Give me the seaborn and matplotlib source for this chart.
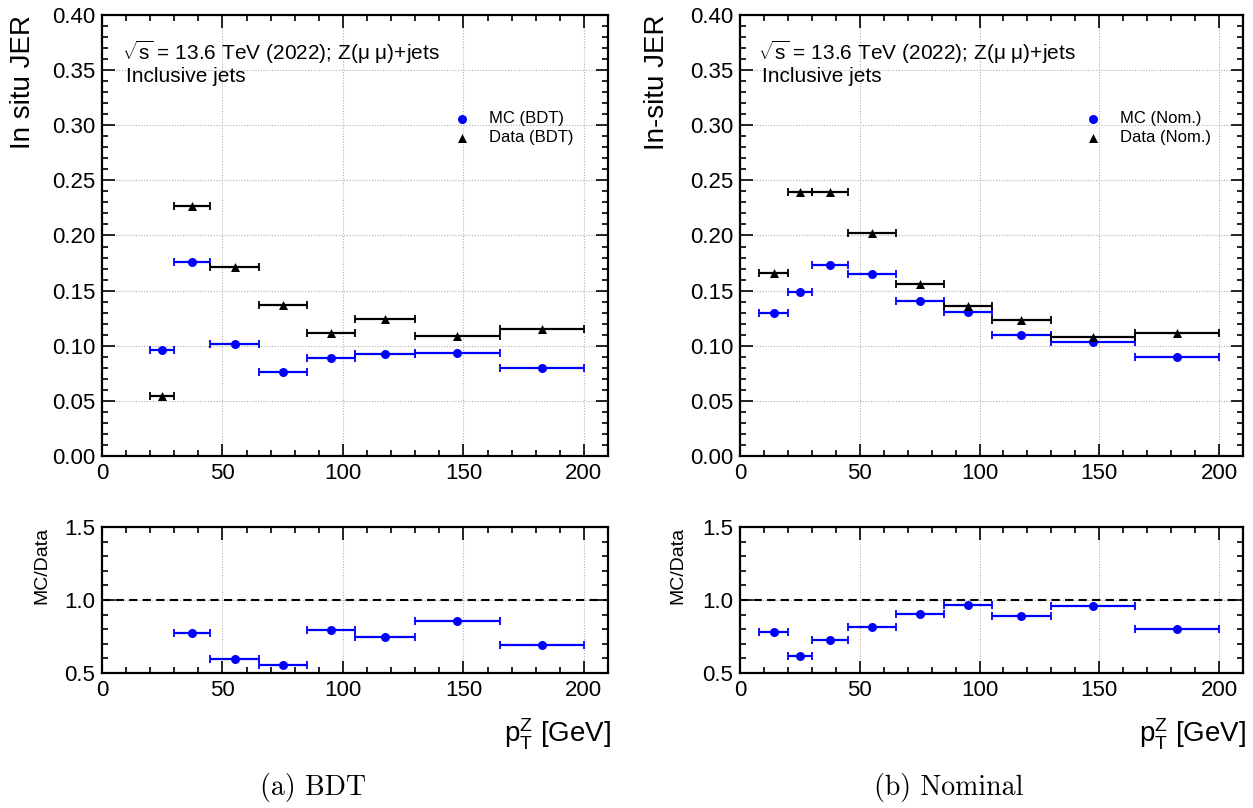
import numpy as np
import pandas as pd
import matplotlib
matplotlib.use("Agg")
import matplotlib.pyplot as plt
import seaborn as sns
from matplotlib.ticker import MultipleLocator, FormatStrFormatter

# ---------------- data ----------------
bdt_lo = [20, 30, 45, 65, 85, 105, 130, 165]
bdt_hi = [30, 45, 65, 85, 105, 130, 165, 200]
bdt_mc = [0.0962, 0.176, 0.102, 0.0762, 0.0893, 0.0929, 0.0935, 0.0799]
bdt_data = [0.0545, 0.227, 0.1716, 0.137, 0.112, 0.1247, 0.1086, 0.115]
bdt_ratio = [1.77, 0.774, 0.594, 0.557, 0.797, 0.744, 0.858, 0.694]

nom_lo = [8, 20, 30, 45, 65, 85, 105, 130, 165]
nom_hi = [20, 30, 45, 65, 85, 105, 130, 165, 200]
nom_mc = [0.130, 0.1489, 0.1734, 0.1655, 0.141, 0.131, 0.1098, 0.1038, 0.0902]
nom_data = [0.1661, 0.2396, 0.2396, 0.2021, 0.1558, 0.1365, 0.1231, 0.108, 0.112]
nom_ratio = [0.781, 0.619, 0.724, 0.817, 0.904, 0.968, 0.890, 0.959, 0.804]

header = r"$\sqrt{\mathrm{s}}$ = 13.6 TeV (2022); Z(μ μ)+jets"
subheader = "Inclusive jets"
xlabel = r"$\mathrm{p}_{\mathrm{T}}^{\mathrm{Z}}$ [GeV]"

panels = [
    dict(lo=bdt_lo, hi=bdt_hi, mc=bdt_mc, data=bdt_data, ratio=bdt_ratio,
         ylabel="In situ JER", mc_lab="MC (BDT)", data_lab="Data (BDT)",
         caption="(a) BDT"),
    dict(lo=nom_lo, hi=nom_hi, mc=nom_mc, data=nom_data, ratio=nom_ratio,
         ylabel="In-situ JER", mc_lab="MC (Nom.)", data_lab="Data (Nom.)",
         caption="(b) Nominal"),
]

# ---------------- style ----------------
sns.set_style("ticks", rc={"text.color": "black", "axes.labelcolor": "black",
                           "xtick.color": "black", "ytick.color": "black",
                           "axes.edgecolor": "black"})
plt.rcParams["font.family"] = ["Liberation Sans", "DejaVu Sans"]
plt.rcParams["font.sans-serif"] = ["Liberation Sans"]
plt.rcParams["mathtext.fontset"] = "custom"
plt.rcParams["mathtext.rm"] = "Liberation Sans"
plt.rcParams["mathtext.it"] = "Liberation Sans:italic"
plt.rcParams["mathtext.bf"] = "Liberation Sans:bold"
plt.rcParams["text.color"] = "black"
plt.rcParams["axes.labelcolor"] = "black"

W, H = 1253, 808
fig = plt.figure(figsize=(W / 100, H / 100), dpi=100)

geo = [
    dict(left=102, right=608, ylab_x=36, rylab_x=50, lg_x=454, hx=122, ix=126, cap_x=0.25),
    dict(left=740, right=1243, ylab_x=670, rylab_x=686, lg_x=1085, hx=758, ix=762, cap_x=0.757),
]
top_y0, top_y1 = 15, 456
bot_y0, bot_y1 = 527, 673


def style_axes(ax, ymajor, yminor, fmt):
    ax.set_xlim(0, 210)
    ax.xaxis.set_major_locator(MultipleLocator(50))
    ax.xaxis.set_minor_locator(MultipleLocator(10))
    ax.yaxis.set_major_locator(MultipleLocator(ymajor))
    ax.yaxis.set_minor_locator(MultipleLocator(yminor))
    ax.yaxis.set_major_formatter(FormatStrFormatter(fmt))
    ax.tick_params(which="both", direction="in", top=True, right=True,
                   labelsize=16, width=1.2, color="black", labelcolor="black")
    ax.tick_params(which="major", length=9, pad=5)
    ax.tick_params(which="minor", length=4.5)
    for s in ax.spines.values():
        s.set_linewidth(1.6)
        s.set_color("black")
    ax.grid(True, which="major", linestyle=(0, (1, 1.5)), color="#b0b0b0", linewidth=0.8)
    ax.set_axisbelow(True)


for p, g in zip(panels, geo):
    lo = np.array(p["lo"], float)
    hi = np.array(p["hi"], float)
    c = (lo + hi) / 2
    xerr = [c - lo, hi - c]

    wl = (g["left"]) / W
    ww = (g["right"] - g["left"]) / W
    ax = fig.add_axes([wl, 1 - top_y1 / H, ww, (top_y1 - top_y0) / H])
    axr = fig.add_axes([wl, 1 - bot_y1 / H, ww, (bot_y1 - bot_y0) / H])

    # ----- top panel -----
    ax.errorbar(c, p["mc"], xerr=xerr, fmt="none", ecolor="#0000ff",
                elinewidth=1.6, capsize=3, capthick=1.3, zorder=2)
    ax.errorbar(c, p["data"], xerr=xerr, fmt="none", ecolor="black",
                elinewidth=1.6, capsize=3, capthick=1.3, zorder=2)
    df_mc = pd.DataFrame({"x": c, "y": p["mc"]})
    df_da = pd.DataFrame({"x": c, "y": p["data"]})
    sns.scatterplot(data=df_mc, x="x", y="y", ax=ax, color="#0000ff", marker="o",
                    s=42, linewidth=0, label=p["mc_lab"], zorder=3)
    sns.scatterplot(data=df_da, x="x", y="y", ax=ax, color="black", marker="^",
                    s=42, linewidth=0, label=p["data_lab"], zorder=3)
    ax.set_ylim(0, 0.40)
    style_axes(ax, 0.05, 0.01, "%.2f")
    ax.set_xlabel("")
    ax.set_ylabel(p["ylabel"], fontsize=20, loc="top", color="black")
    ax.yaxis.set_label_coords((g["ylab_x"] - g["left"]) / (g["right"] - g["left"]), 1.0)

    aw = g["right"] - g["left"]
    ah = top_y1 - top_y0
    ax.text((g["hx"] - g["left"]) / aw, 1 - (52 - top_y0) / ah, header,
            transform=ax.transAxes, fontsize=15, va="center", ha="left", color="black")
    ax.text((g["ix"] - g["left"]) / aw, 1 - (77 - top_y0) / ah, subheader,
            transform=ax.transAxes, fontsize=15, va="center", ha="left", color="black")

    leg = ax.legend(loc="upper left",
                    bbox_to_anchor=((g["lg_x"] - g["left"]) / aw, 1 - (111 - top_y0) / ah),
                    frameon=False, fontsize=12, handlelength=1.0, handletextpad=1.1,
                    borderpad=0, borderaxespad=0, labelspacing=0.25, scatterpoints=1,
                    labelcolor="black")

    # ----- ratio panel -----
    axr.errorbar(c, p["ratio"], xerr=xerr, fmt="none", ecolor="#0000ff",
                 elinewidth=1.6, capsize=3, capthick=1.3, zorder=2)
    df_r = pd.DataFrame({"x": c, "y": p["ratio"]})
    sns.scatterplot(data=df_r, x="x", y="y", ax=axr, color="#0000ff", marker="o",
                    s=42, linewidth=0, zorder=3, legend=False)
    axr.axhline(1.0, color="black", linestyle=(0, (4, 2.5)), linewidth=1.5, zorder=2)
    axr.set_ylim(0.5, 1.5)
    style_axes(axr, 0.5, 0.1, "%.1f")
    axr.set_ylabel("MC/Data", fontsize=14, loc="top", color="black")
    axr.yaxis.set_label_coords((g["rylab_x"] - g["left"]) / aw, 1.0)
    axr.set_xlabel(xlabel, fontsize=20, loc="right", color="black")
    axr.xaxis.set_label_coords(1.006, -(717 - bot_y1) / (bot_y1 - bot_y0))

    fig.text(g["cap_x"], 1 - 787 / H, p["caption"], family="cmr10", fontsize=20,
             ha="center", va="center", color="black")

fig.savefig("out.png", dpi=100)
